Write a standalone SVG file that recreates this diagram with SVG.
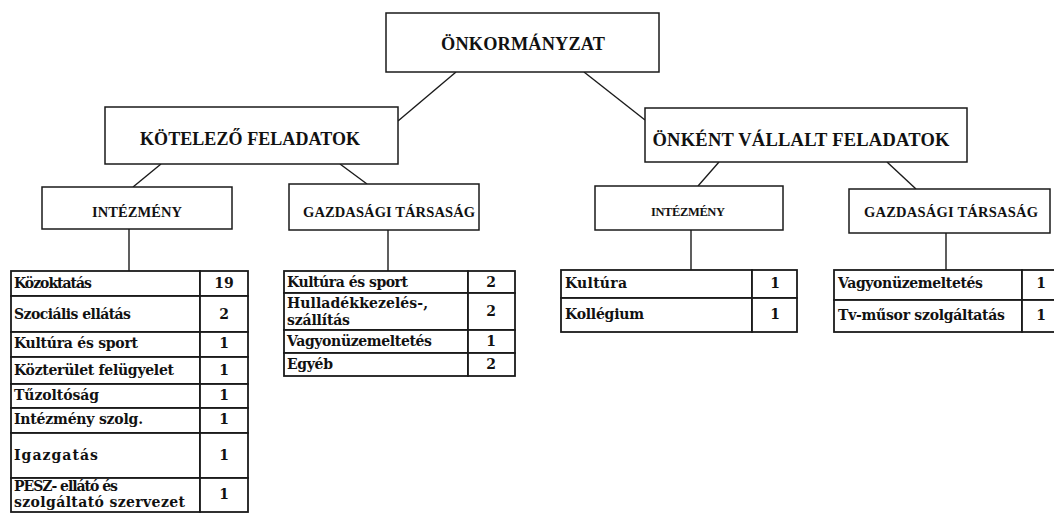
<svg xmlns="http://www.w3.org/2000/svg" width="1054" height="513" viewBox="0 0 1054 513">
<style>
.bg{fill:#ffffff}
.box{fill:#ffffff;stroke:#1a1a1a;stroke-width:1.5}
.cell{fill:#ffffff;stroke:#1a1a1a;stroke-width:1.8}
.con{stroke:#1a1a1a;stroke-width:1.4;fill:none}
.h{font-family:"Liberation Serif","DejaVu Serif",serif;font-weight:bold;fill:#111;text-anchor:middle}
.t{font-family:"DejaVu Serif","Liberation Serif",serif;font-weight:bold;font-size:14px;fill:#111}
.n{font-family:"DejaVu Serif","Liberation Serif",serif;font-weight:bold;font-size:14px;fill:#111;text-anchor:middle}
</style>
<rect class="bg" x="0" y="0" width="1054" height="513"/>
<g id="connectors">
<line class="con" x1="456" y1="72" x2="398" y2="121"/>
<line class="con" x1="584" y1="72" x2="645" y2="120"/>
<line class="con" x1="161" y1="164" x2="133" y2="187"/>
<line class="con" x1="340" y1="164" x2="367" y2="184"/>
<line class="con" x1="719" y1="162" x2="698" y2="186"/>
<line class="con" x1="887" y1="162" x2="916" y2="189"/>
<line class="con" x1="129" y1="229" x2="129" y2="271"/>
<line class="con" x1="388" y1="230" x2="388" y2="271"/>
<line class="con" x1="691" y1="230" x2="691" y2="270"/>
<line class="con" x1="946" y1="233" x2="946" y2="270"/>
</g>
<g id="onkormanyzat">
<rect class="box" x="386" y="13" width="273" height="59"/>
<text class="h" x="523" y="50" font-size="18.3" textLength="164" lengthAdjust="spacing">ÖNKORMÁNYZAT</text>
</g>
<g id="kotelezo">
<rect class="box" x="105" y="107" width="293" height="57"/>
<text class="h" x="250" y="145" font-size="18" textLength="220" lengthAdjust="spacing">KÖTELEZŐ FELADATOK</text>
</g>
<g id="onkent">
<rect class="box" x="645" y="108" width="322" height="54"/>
<text class="h" x="801" y="146" font-size="18.5" textLength="297" lengthAdjust="spacing">ÖNKÉNT VÁLLALT FELADATOK</text>
</g>
<g id="intezmeny-kot">
<rect class="box" x="42" y="187" width="190" height="42"/>
<text class="h" x="137" y="217" font-size="14.5" textLength="90" lengthAdjust="spacing">INTÉZMÉNY</text>
</g>
<g id="gazdasagi-kot">
<rect class="box" x="289" y="184" width="190" height="46"/>
<text class="h" x="389" y="217" font-size="14.5" textLength="172" lengthAdjust="spacing">GAZDASÁGI TÁRSASÁG</text>
</g>
<g id="intezmeny-onk">
<rect class="box" x="595" y="186" width="188" height="44"/>
<text class="h" x="688" y="216" font-size="12.5" textLength="74" lengthAdjust="spacing">INTÉZMÉNY</text>
</g>
<g id="gazdasagi-onk">
<rect class="box" x="849" y="189" width="201" height="44"/>
<text class="h" x="951" y="217" font-size="14.5" textLength="174" lengthAdjust="spacing">GAZDASÁGI TÁRSASÁG</text>
</g>
<g id="table-intezmeny-kot">
<rect class="cell" x="11" y="271" width="189" height="25"/><rect class="cell" x="200" y="271" width="48" height="25"/>
<rect class="cell" x="11" y="296" width="189" height="36"/><rect class="cell" x="200" y="296" width="48" height="36"/>
<rect class="cell" x="11" y="332" width="189" height="25"/><rect class="cell" x="200" y="332" width="48" height="25"/>
<rect class="cell" x="11" y="357" width="189" height="27"/><rect class="cell" x="200" y="357" width="48" height="27"/>
<rect class="cell" x="11" y="384" width="189" height="24"/><rect class="cell" x="200" y="384" width="48" height="24"/>
<rect class="cell" x="11" y="408" width="189" height="25"/><rect class="cell" x="200" y="408" width="48" height="25"/>
<rect class="cell" x="11" y="433" width="189" height="45"/><rect class="cell" x="200" y="433" width="48" height="45"/>
<rect class="cell" x="11" y="478" width="189" height="34"/><rect class="cell" x="200" y="478" width="48" height="34"/>
<text class="t" x="14" y="288" textLength="78" lengthAdjust="spacing">Közoktatás</text><text class="n" x="224" y="288">19</text>
<text class="t" x="14" y="319" textLength="117" lengthAdjust="spacing">Szociális ellátás</text><text class="n" x="224" y="319">2</text>
<text class="t" x="14" y="348" textLength="124" lengthAdjust="spacing">Kultúra és sport</text><text class="n" x="224" y="348">1</text>
<text class="t" x="14" y="375" textLength="160" lengthAdjust="spacing">Közterület felügyelet</text><text class="n" x="224" y="375">1</text>
<text class="t" x="14" y="400" textLength="85" lengthAdjust="spacing">Tűzoltóság</text><text class="n" x="224" y="400">1</text>
<text class="t" x="14" y="424" textLength="129" lengthAdjust="spacing">Intézmény szolg.</text><text class="n" x="224" y="424">1</text>
<text class="t" x="14" y="460" textLength="84" lengthAdjust="spacing">Igazgatás</text><text class="n" x="224" y="460">1</text>
<text class="t" x="14" y="491" textLength="104" lengthAdjust="spacing">PESZ- ellátó és</text>
<text class="t" x="14" y="507" textLength="171" lengthAdjust="spacing">szolgáltató szervezet</text><text class="n" x="224" y="499">1</text>
</g>
<g id="table-gazdasagi-kot">
<rect class="cell" x="284" y="271" width="184" height="22"/><rect class="cell" x="468" y="271" width="47" height="22"/>
<rect class="cell" x="284" y="293" width="184" height="37"/><rect class="cell" x="468" y="293" width="47" height="37"/>
<rect class="cell" x="284" y="330" width="184" height="23"/><rect class="cell" x="468" y="330" width="47" height="23"/>
<rect class="cell" x="284" y="353" width="184" height="23"/><rect class="cell" x="468" y="353" width="47" height="23"/>
<text class="t" x="287" y="287" textLength="121" lengthAdjust="spacing">Kultúra és sport</text><text class="n" x="491" y="287">2</text>
<text class="t" x="287" y="308" textLength="141" lengthAdjust="spacing">Hulladékkezelés-,</text>
<text class="t" x="287" y="325" textLength="63" lengthAdjust="spacing">szállítás</text><text class="n" x="491" y="316">2</text>
<text class="t" x="287" y="346" textLength="145" lengthAdjust="spacing">Vagyonüzemeltetés</text><text class="n" x="491" y="346">1</text>
<text class="t" x="287" y="369" textLength="46" lengthAdjust="spacing">Egyéb</text><text class="n" x="491" y="369">2</text>
</g>
<g id="table-intezmeny-onk">
<rect class="cell" x="561" y="270" width="191" height="28"/><rect class="cell" x="752" y="270" width="45" height="28"/>
<rect class="cell" x="561" y="298" width="191" height="34"/><rect class="cell" x="752" y="298" width="45" height="34"/>
<text class="t" x="565" y="288" textLength="62" lengthAdjust="spacing">Kultúra</text><text class="n" x="775" y="288">1</text>
<text class="t" x="565" y="319" textLength="79" lengthAdjust="spacing">Kollégium</text><text class="n" x="775" y="319">1</text>
</g>
<g id="table-gazdasagi-onk">
<rect class="cell" x="834" y="270" width="188" height="30"/><rect class="cell" x="1022" y="270" width="36" height="30"/>
<rect class="cell" x="834" y="300" width="188" height="32"/><rect class="cell" x="1022" y="300" width="36" height="32"/>
<text class="t" x="838" y="288" textLength="145" lengthAdjust="spacing">Vagyonüzemeltetés</text><text class="n" x="1041" y="288">1</text>
<text class="t" x="838" y="320" textLength="167" lengthAdjust="spacing">Tv-műsor szolgáltatás</text><text class="n" x="1041" y="320">1</text>
</g>
</svg>
